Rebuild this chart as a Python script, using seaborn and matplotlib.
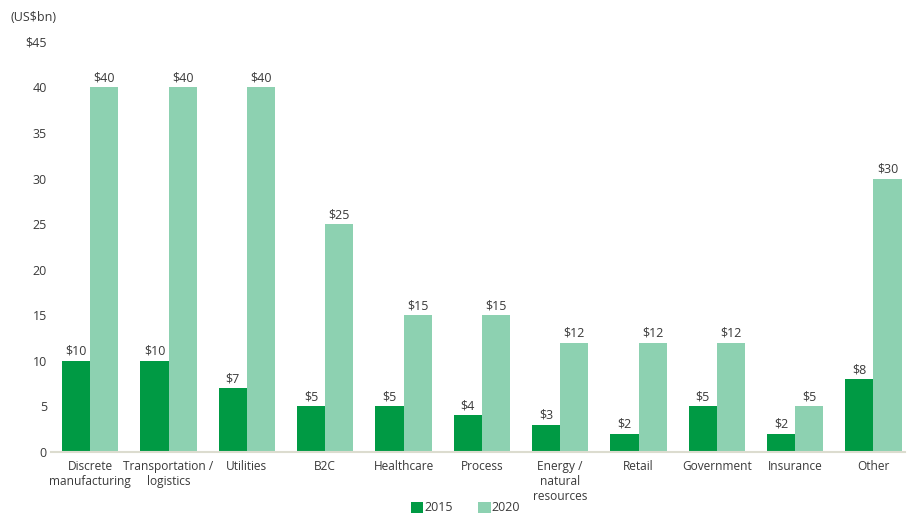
import matplotlib
matplotlib.use("Agg")
import matplotlib.pyplot as plt
import seaborn as sns
import pandas as pd

categories = ["Discrete\nmanufacturing", "Transportation /\nlogistics", "Utilities", "B2C",
              "Healthcare", "Process", "Energy /\nnatural\nresources", "Retail",
              "Government", "Insurance", "Other"]
values_2015 = [10, 10, 7, 5, 5, 4, 3, 2, 5, 2, 8]
values_2020 = [40, 40, 40, 25, 15, 15, 12, 12, 12, 5, 30]
series = ["2015", "2020"]
yticks = [0, 5, 10, 15, 20, 25, 30, 35, 40, 45]
ytick_labels = ["0", "5", "10", "15", "20", "25", "30", "35", "40", "$45"]

df = pd.DataFrame({
    "category": categories * 2,
    "value": values_2015 + values_2020,
    "year": [series[0]] * len(categories) + [series[1]] * len(categories),
})

sns.set_style("white")
plt.rcParams["font.family"] = ["Open Sans", "DejaVu Sans"]
text_color = "#3a3a3a"

fig = plt.figure(figsize=(9.13, 5.17), dpi=100)
ax = fig.add_axes([0.056, 0.126, 0.935, 0.793])
palette = {"2015": "#009A44", "2020": "#8DD1B1"}
sns.barplot(data=df, x="category", y="value", hue="year", palette=palette,
            width=0.72, gap=0, ax=ax, saturation=1, legend=True, linewidth=0)

for cont in ax.containers:
    ax.bar_label(cont, labels=[f"${int(v)}" for v in cont.datavalues],
                 padding=2, fontsize=9, color=text_color)

ax.set_ylim(0, 45)
ax.set_xlim(-0.5, 10.4)
ax.set_yticks(yticks)
ax.set_yticklabels(ytick_labels)
ax.tick_params(axis="y", length=0, pad=3, labelsize=9, labelcolor=text_color)
ax.tick_params(axis="x", length=0, pad=6, labelsize=8.6, labelcolor=text_color)
for s in ["top", "right", "left"]:
    ax.spines[s].set_visible(False)
ax.spines["bottom"].set_color("#DCDCCF")
ax.spines["bottom"].set_linewidth(1.5)
ax.set_xlabel("")
ax.set_ylabel("")
ax.grid(False)

for lab in ax.get_xticklabels():
    lab.set_horizontalalignment("center")
    lab.set_multialignment("center")

fig.text(0.011, 0.967, "(US$bn)", fontsize=9, color=text_color, va="center")

handles, labels = ax.get_legend_handles_labels()
ax.legend_.remove()
fig.legend(handles, labels, loc="lower center", bbox_to_anchor=(0.51, -0.012), ncol=2,
           frameon=False, fontsize=9, handlelength=1.0, handleheight=1.0,
           handletextpad=0.1, columnspacing=2.0, labelcolor=text_color,
           borderaxespad=0.3)

fig.savefig("out.png", dpi=100)
